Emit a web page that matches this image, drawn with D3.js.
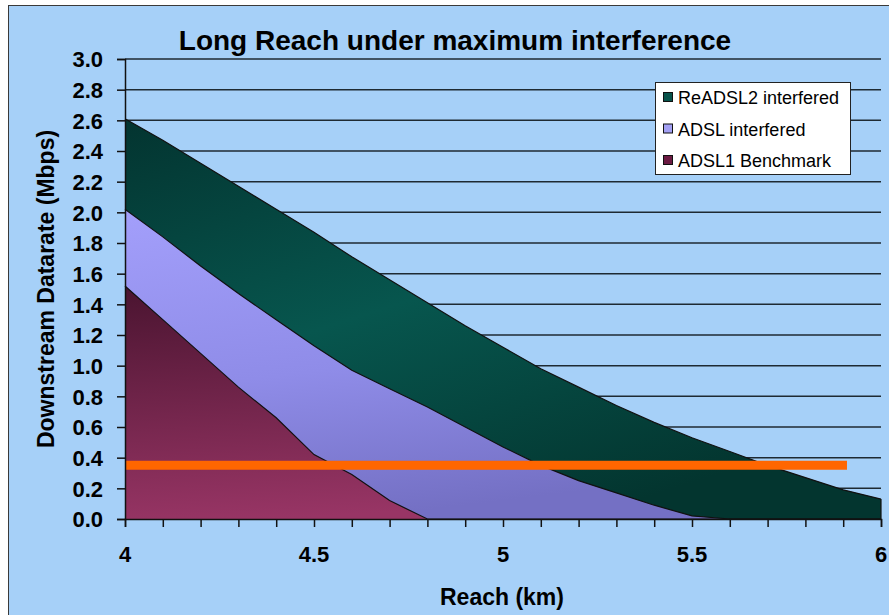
<!DOCTYPE html>
<html>
<head>
<meta charset="utf-8">
<script src="https://cdn.jsdelivr.net/npm/d3@7"></script>
<style>
  body { margin: 0; background: #fff; }
  text { font-family: "Liberation Sans", Arial, sans-serif; fill: #000; }
</style>
</head>
<body>
<div id="chart"></div>
<script>
// reach in km, one sample every 0.1 km
const reach = [4.0, 4.1, 4.2, 4.3, 4.4, 4.5, 4.6, 4.7, 4.8, 4.9, 5.0,
               5.1, 5.2, 5.3, 5.4, 5.5, 5.6, 5.7, 5.8, 5.9, 6.0];
const readsl2 = [2.61, 2.47, 2.32, 2.17, 2.02, 1.87, 1.71, 1.56, 1.41, 1.26, 1.12,
                 0.98, 0.86, 0.74, 0.63, 0.53, 0.44, 0.35, 0.27, 0.19, 0.13];
const adsl = [2.02, 1.84, 1.65, 1.47, 1.30, 1.13, 0.97, 0.85, 0.73, 0.60, 0.47,
              0.35, 0.25, 0.17, 0.09, 0.02, 0, 0, 0, 0, 0];
const adsl1 = [1.52, 1.30, 1.08, 0.86, 0.66, 0.42, 0.29, 0.12, 0, 0, 0,
               0, 0, 0, 0, 0, 0, 0, 0, 0, 0];
const targetReach = [4.0, 5.91];
const targetRate = [0.35, 0.35];
const seriesNames = ['ReADSL2 interfered', 'ADSL interfered', 'ADSL1 Benchmark'];
const yTicks = [0, 0.2, 0.4, 0.6, 0.8, 1.0, 1.2, 1.4, 1.6, 1.8, 2.0, 2.2, 2.4, 2.6, 2.8, 3.0];
const xLabels = [4, 4.5, 5, 5.5, 6];

const W = 889, H = 615;
const margin = { top: 59, right: 8, bottom: 96, left: 125 };
const width = W - margin.left - margin.right;
const height = H - margin.top - margin.bottom;

const svg = d3.select('#chart').append('svg')
  .attr('width', W).attr('height', H);

// gradients for the shaded areas
const defs = svg.append('defs');
function grad(id, stops, x2, y2) {
  const g = defs.append('linearGradient').attr('id', id)
    .attr('x1', 0).attr('y1', 0).attr('x2', x2).attr('y2', y2);
  stops.forEach(s => g.append('stop').attr('offset', s[0]).attr('stop-color', s[1]));
}
grad('gTeal', [[0, '#033430'], [0.5, '#07564e'], [1, '#03352f']], 0.6, 1);
grad('gLav', [[0, '#a39ffb'], [0.55, '#8f8ce8'], [1, '#7470c4']], 0.3, 1);
grad('gMar', [[0, '#4a1430'], [1, '#983565']], 0.2, 1);

// chart background
svg.append('rect')
  .attr('x', 8.5).attr('y', 5.5)
  .attr('width', W).attr('height', H)
  .attr('fill', '#a6d0f8')
  .attr('stroke', '#3a3a3a');

const chart = svg.append('g')
  .attr('transform', `translate(${margin.left},${margin.top})`);

const x = d3.scaleLinear().domain([4, 6]).range([0, width]);
const y = d3.scaleLinear().domain([0, 3]).range([height, 0]);

// horizontal grid
chart.append('g')
  .selectAll('line')
  .data(yTicks.slice(1))
  .join('line')
  .attr('x1', 0).attr('x2', width)
  .attr('y1', d => y(d)).attr('y2', d => y(d))
  .attr('stroke', '#1e2a33').attr('stroke-width', 1.5);

const rows = reach.map((r, i) => ({ r, a: readsl2[i], b: adsl[i], c: adsl1[i] }));
const areaOf = key => d3.area()
  .x(d => x(d.r)).y0(y(0)).y1(d => y(d[key]));
const lineOf = key => d3.line()
  .x(d => x(d.r)).y(d => y(d[key]));

[['a', 'url(#gTeal)'], ['b', 'url(#gLav)'], ['c', 'url(#gMar)']].forEach(([k, fill]) => {
  chart.append('path').datum(rows)
    .attr('d', areaOf(k))
    .attr('fill', fill);
  chart.append('path').datum(rows)
    .attr('d', lineOf(k))
    .attr('fill', 'none')
    .attr('stroke', '#111')
    .attr('stroke-width', 1.2);
});

// teal right edge
chart.append('line')
  .attr('x1', x(6)).attr('x2', x(6))
  .attr('y1', y(readsl2[readsl2.length - 1])).attr('y2', y(0))
  .attr('stroke', '#111').attr('stroke-width', 1.2);

// orange target line
chart.append('path')
  .datum(targetReach.map((r, i) => [r, targetRate[i]]))
  .attr('d', d3.line().x(d => x(d[0])).y(d => y(d[1])))
  .attr('stroke', '#ff6600').attr('stroke-width', 9).attr('fill', 'none');

// y axis
const yAxis = chart.append('g')
  .call(d3.axisLeft(y).tickValues(yTicks).tickFormat(d3.format('.1f')).tickSize(8).tickPadding(14));
yAxis.select('.domain').attr('stroke', '#111').attr('stroke-width', 1.5);
yAxis.selectAll('.tick line').attr('stroke', '#111').attr('stroke-width', 1.5);
yAxis.selectAll('text').style('font-size', '22px').style('font-weight', 'bold')
  .attr('fill', '#000').attr('dy', '0.36em');

// x axis
const xAxis = chart.append('g')
  .attr('transform', `translate(0,${height})`)
  .call(d3.axisBottom(x).tickValues(d3.range(40, 61).map(d => d / 10)).tickSize(8).tickFormat(''));
xAxis.select('.domain').attr('stroke', '#111').attr('stroke-width', 1.5);
xAxis.selectAll('.tick line').attr('stroke', '#111').attr('stroke-width', 1.5);

chart.append('g')
  .selectAll('text')
  .data(xLabels)
  .join('text')
  .attr('x', d => x(d))
  .attr('y', height + 43)
  .attr('text-anchor', 'middle')
  .style('font-size', '22px')
  .style('font-weight', 'bold')
  .text(d => d);

// titles
svg.append('text')
  .attr('x', 455).attr('y', 50)
  .attr('text-anchor', 'middle')
  .style('font-size', '28px').style('font-weight', 'bold')
  .text('Long Reach under maximum interference');

svg.append('text')
  .attr('x', 502).attr('y', 605)
  .attr('text-anchor', 'middle')
  .style('font-size', '23px').style('font-weight', 'bold')
  .text('Reach (km)');

svg.append('text')
  .attr('transform', 'translate(54,289) rotate(-90)')
  .attr('text-anchor', 'middle')
  .style('font-size', '23px').style('font-weight', 'bold')
  .text('Downstream Datarate (Mbps)');

// legend
const legend = svg.append('g').attr('transform', 'translate(655,82)');
legend.append('rect')
  .attr('x', 0.5).attr('y', 0.5).attr('width', 195).attr('height', 92)
  .attr('fill', '#fff').attr('stroke', '#222');
const swatch = ['#07524a', '#a3a0f4', '#6b1a42'];
seriesNames.forEach((name, i) => {
  const cy = 15 + i * 31.5;
  legend.append('rect')
    .attr('x', 8.5).attr('y', cy - 4.5).attr('width', 9).attr('height', 9)
    .attr('fill', swatch[i]).attr('stroke', '#111');
  legend.append('text')
    .attr('x', 23).attr('y', cy + 7)
    .style('font-size', '18px')
    .text(name);
});
</script>
</body>
</html>
